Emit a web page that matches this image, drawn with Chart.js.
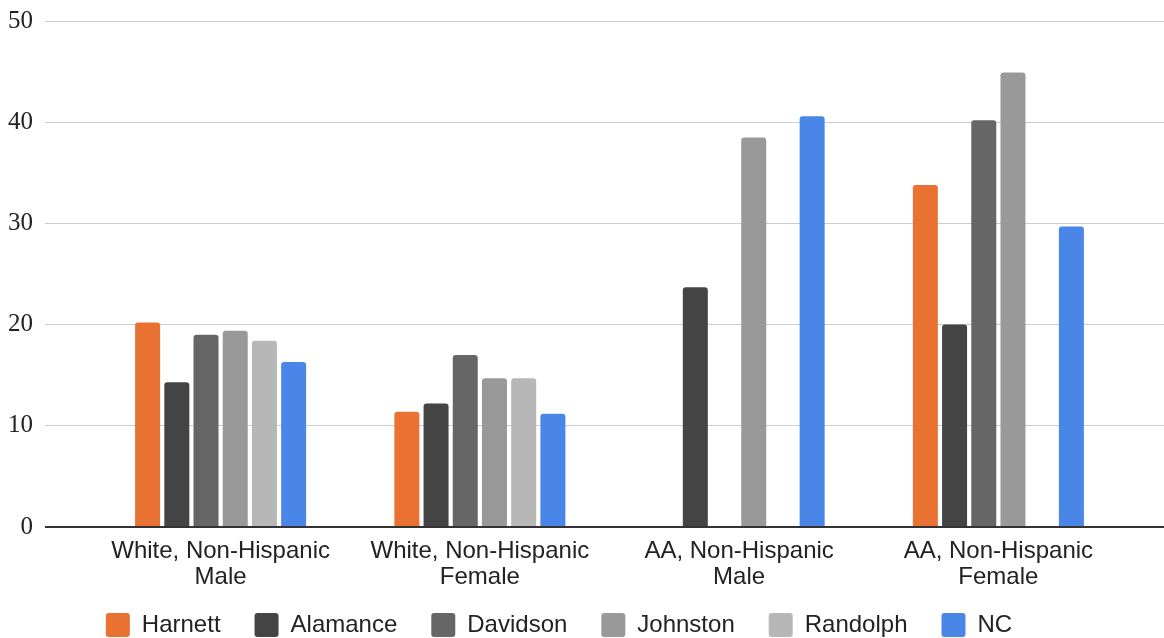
<!DOCTYPE html>
<html>
<head>
<meta charset="utf-8">
<script src="https://cdn.jsdelivr.net/npm/chart.js@4/dist/chart.umd.min.js"></script>
<style>
    body { margin: 0; background: #fff; }
</style>
</head>
<body>
<canvas id="rateChart" width="1164" height="638"></canvas>
<script>
    // categories and series
    let categories = [
        ["White, Non-Hispanic", "Male"],
        ["White, Non-Hispanic", "Female"],
        ["AA, Non-Hispanic", "Male"],
        ["AA, Non-Hispanic", "Female"]
    ];
    let harnett = [20.2, 11.4, null, 33.8];
    let alamance = [14.3, 12.2, 23.7, 20.0];
    let davidson = [19.0, 17.0, null, 40.2];
    let johnston = [19.4, 14.7, 38.5, 44.9];
    let randolph = [18.4, 14.7, null, null];
    let nc = [16.3, 11.2, 40.6, 29.7];

    let yTicks = [0, 10, 20, 30, 40, 50];

    function bar(label, data, color) {
        return {
            label: label,
            data: data,
            backgroundColor: color,
            borderRadius: 3,
            barPercentage: 0.856,
            categoryPercentage: 0.676
        };
    }

    let gridColor = ctx => ctx.tick && ctx.tick.value === 0 ? "#333333" : "#cccccc";
    let gridWidth = ctx => ctx.tick && ctx.tick.value === 0 ? 2 : 1;

    // the legend row sits a bit higher and further left than Chart.js puts it
    let legendNudge = {
        id: "legendNudge",
        afterLayout(chart) {
            let lg = chart.legend;
            lg.top -= 8;
            lg.left -= 23;
            lg.right -= 23;
        }
    };

    let ctx = document.getElementById("rateChart");
    let rateChart = new Chart(ctx, {
        type: "bar",
        data: {
            labels: categories,
            datasets: [
                bar("Harnett", harnett, "#e97132"),
                bar("Alamance", alamance, "#444444"),
                bar("Davidson", davidson, "#666666"),
                bar("Johnston", johnston, "#999999"),
                bar("Randolph", randolph, "#b7b7b7"),
                bar("NC", nc, "#4a86e8")
            ]
        },
        options: {
            responsive: false,
            animation: false,
            layout: { padding: { left: 0, top: 21, right: 0, bottom: 0 } },
            scales: {
                x: {
                    grid: { display: false, drawTicks: false },
                    border: { display: false },
                    ticks: {
                        padding: 11,
                        color: "#222222",
                        maxRotation: 0,
                        autoSkip: false,
                        font: { family: "'Liberation Sans', Arial", size: 24, lineHeight: 1.08 }
                    },
                    afterFit(scale) { scale.height = 60; }
                },
                y: {
                    position: "left",
                    min: yTicks[0],
                    max: yTicks[yTicks.length - 1],
                    border: { display: false },
                    grid: { color: gridColor, lineWidth: gridWidth, drawTicks: true, tickLength: 46 },
                    ticks: {
                        stepSize: 10,
                        padding: 12,
                        color: "#222222",
                        font: { family: "'Liberation Serif', 'Times New Roman'", size: 25 }
                    },
                    afterFit(scale) {
                        scale.width = 91;
                        scale.paddingTop = 0;
                        scale.paddingBottom = 0;
                    }
                },
                y2: {
                    position: "right",
                    min: yTicks[0],
                    max: yTicks[yTicks.length - 1],
                    border: { display: false },
                    grid: { color: gridColor, lineWidth: gridWidth, drawOnChartArea: false, drawTicks: true, tickLength: 36 },
                    ticks: { stepSize: 10, display: false },
                    afterFit(scale) {
                        scale.width = 36;
                        scale.paddingTop = 0;
                        scale.paddingBottom = 0;
                    }
                }
            },
            plugins: {
                tooltip: { enabled: false },
                legend: {
                    position: "bottom",
                    maxHeight: 51,
                    labels: {
                        boxWidth: 24,
                        boxHeight: 24,
                        padding: 34,
                        useBorderRadius: true,
                        borderRadius: 3,
                        color: "#222222",
                        font: { family: "'Liberation Sans', Arial", size: 24 }
                    }
                }
            }
        },
        plugins: [legendNudge]
    });
</script>
</body>
</html>
